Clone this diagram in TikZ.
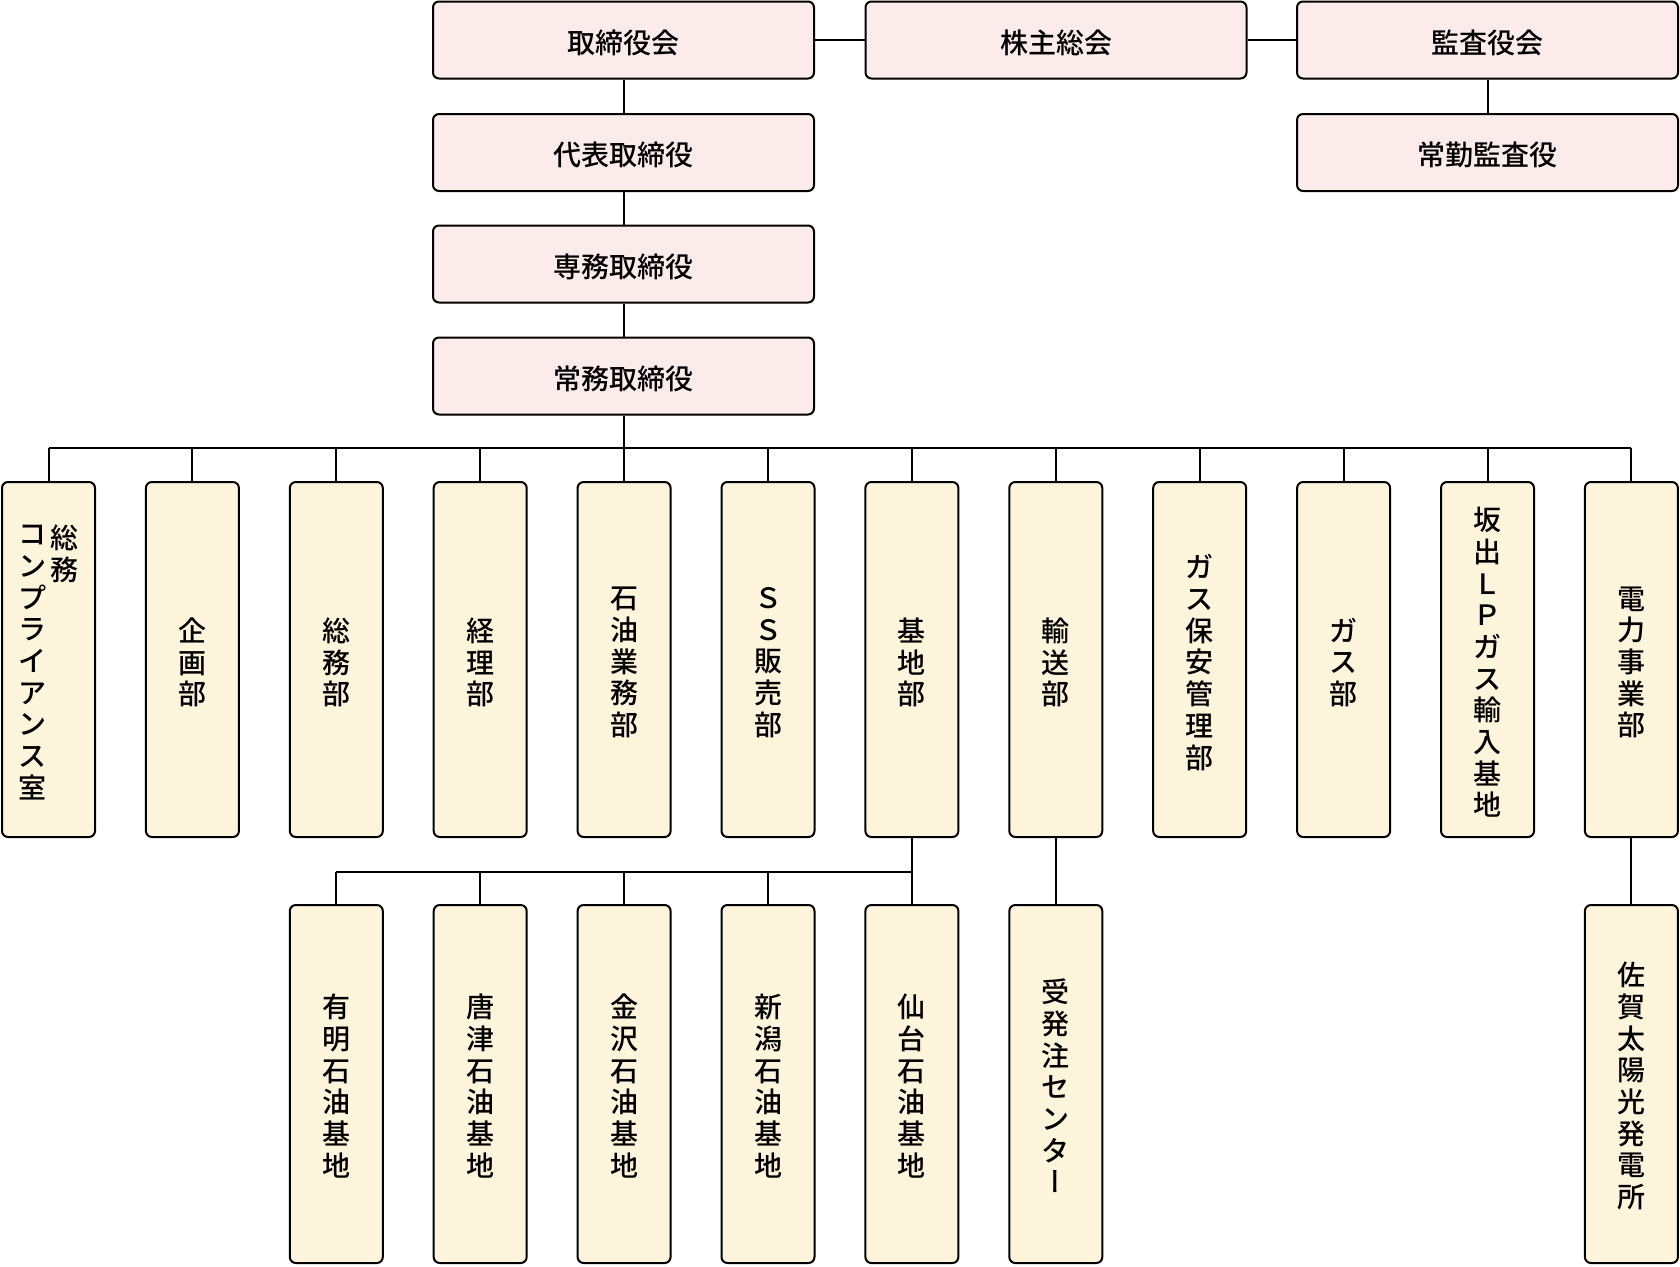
\documentclass[tikz,border=0pt]{standalone}
\usepackage{fontspec}
\setmainfont{Noto Sans CJK JP}[UprightFont=* Medium]
\newfontfamily\vertfont{Noto Sans CJK JP}[UprightFont=* Medium, RawFeature=+vert]
\definecolor{pinkfill}{HTML}{FCEBEB}
\definecolor{creamfill}{HTML}{FCF4DB}
\newcommand{\vbar}{{\vertfont ー}}
\begin{document}
\begin{tikzpicture}[x=1pt,y=-1pt,
  every node/.style={font=\fontsize{28}{31.7}\selectfont, text=black},
  topbox/.style={draw=black, line width=2pt, rounded corners=6pt, fill=pinkfill,
    minimum width=381pt, minimum height=77pt, inner sep=0pt},
  deptbox/.style={draw=black, line width=2pt, rounded corners=6pt, fill=creamfill,
    minimum width=93pt, minimum height=355pt, inner sep=0pt},
  lowbox/.style={deptbox, minimum height=358pt},
  txt/.style={inner sep=0pt, align=center},
  colnode/.style={inner sep=0pt, align=center, anchor=north},
  conn/.style={line width=2pt, draw=black}]
\useasboundingbox (0,0) rectangle (1680,1266);
\fill[white] (0,0) rectangle (1680,1266);

% top management
\node[topbox] (t1) at (623.5,40) {};
\node[topbox] (t2) at (1056,40) {};
\node[topbox] (t3) at (1487.5,40) {};
\node[topbox] (r1) at (623.5,152.5) {};
\node[topbox] (r2) at (623.5,264) {};
\node[topbox] (r3) at (623.5,376) {};
\node[topbox] (a1) at (1487.5,152.5) {};
\node[txt] (t1t) at ([yshift=-2.5pt]t1.center) {取締役会};
\node[txt] (t2t) at ([yshift=-2.5pt]t2.center) {株主総会};
\node[txt] (t3t) at ([yshift=-2.5pt]t3.center) {監査役会};
\node[txt] (r1t) at ([yshift=-2.5pt]r1.center) {代表取締役};
\node[txt] (r2t) at ([yshift=-2.5pt]r2.center) {専務取締役};
\node[txt] (r3t) at ([yshift=-2.5pt]r3.center) {常務取締役};
\node[txt] (a1t) at ([yshift=-2.5pt]a1.center) {常勤監査役};

% departments
\node[deptbox] (d0) at (48.5,659.5) {};
\node[colnode] (d0a) at (32.5,525) {コ\\ン\\プ\\ラ\\イ\\ア\\ン\\ス\\室};
\node[colnode] (d0b) at (64.5,525) {総\\務};
\node[deptbox] (d1) at (192.4,659.5) {};
\node[deptbox] (d2) at (336.3,659.5) {};
\node[deptbox] (d3) at (480.2,659.5) {};
\node[deptbox] (d4) at (624.1,659.5) {};
\node[deptbox] (d5) at (768.0,659.5) {};
\node[deptbox] (d6) at (911.9,659.5) {};
\node[deptbox] (d7) at (1055.8,659.5) {};
\node[deptbox] (d8) at (1199.7,659.5) {};
\node[deptbox] (d9) at (1343.6,659.5) {};
\node[deptbox] (d10) at (1487.5,659.5) {};
\node[deptbox] (d11) at (1631.4,659.5) {};
\node[txt] (d1t) at ([yshift=-3pt]d1.center) {企\\画\\部};
\node[txt] (d2t) at ([yshift=-3pt]d2.center) {総\\務\\部};
\node[txt] (d3t) at ([yshift=-3pt]d3.center) {経\\理\\部};
\node[txt] (d4t) at ([yshift=-3pt]d4.center) {石\\油\\業\\務\\部};
\node[txt] (d5t) at ([yshift=-3pt]d5.center) {Ｓ\\Ｓ\\販\\売\\部};
\node[txt] (d6t) at ([yshift=-3pt]d6.center) {基\\地\\部};
\node[txt] (d7t) at ([yshift=-3pt]d7.center) {輸\\送\\部};
\node[txt] (d8t) at ([yshift=-3pt]d8.center) {ガ\\ス\\保\\安\\管\\理\\部};
\node[txt] (d9t) at ([yshift=-3pt]d9.center) {ガ\\ス\\部};
\node[txt] (d10t) at ([yshift=-3pt]d10.center) {坂\\出\\Ｌ\\Ｐ\\ガ\\ス\\輸\\入\\基\\地};
\node[txt] (d11t) at ([yshift=-3pt]d11.center) {電\\力\\事\\業\\部};

% lower level
\node[lowbox] (b2) at (336.3,1084) {};
\node[lowbox] (b3) at (480.2,1084) {};
\node[lowbox] (b4) at (624.1,1084) {};
\node[lowbox] (b5) at (768.0,1084) {};
\node[lowbox] (b6) at (911.9,1084) {};
\node[lowbox] (b7) at (1055.8,1084) {};
\node[lowbox] (b11) at (1631.4,1084) {};
\node[txt] (b2t) at ([yshift=-2pt]b2.center) {有\\明\\石\\油\\基\\地};
\node[txt] (b3t) at ([yshift=-2pt]b3.center) {唐\\津\\石\\油\\基\\地};
\node[txt] (b4t) at ([yshift=-2pt]b4.center) {金\\沢\\石\\油\\基\\地};
\node[txt] (b5t) at ([yshift=-2pt]b5.center) {新\\潟\\石\\油\\基\\地};
\node[txt] (b6t) at ([yshift=-2pt]b6.center) {仙\\台\\石\\油\\基\\地};
\node[txt] (b7t) at ([yshift=-2pt]b7.center) {受\\発\\注\\セ\\ン\\タ\\\vbar};
\node[txt] (b11t) at ([yshift=-2pt]b11.center) {佐\\賀\\太\\陽\\光\\発\\電\\所};

% bus coordinates
\coordinate (bus) at (0,448);
\coordinate (bus2) at (0,872);

% connectors
\draw[conn] (t1.east) -- (t2.west);
\draw[conn] (t2.east) -- (t3.west);
\draw[conn] (t1.south) -- (r1.north);
\draw[conn] (r1.south) -- (r2.north);
\draw[conn] (r2.south) -- (r3.north);
\draw[conn] (t3.south) -- (a1.north);
\draw[conn] (r3.south) -- (r3.south |- bus);
\draw[conn] (d0.north |- bus) -- (d11.north |- bus);
\foreach \d in {d0,d1,d2,d3,d4,d5,d6,d7,d8,d9,d10,d11}
  \draw[conn] (\d.north) -- (\d.north |- bus);
\draw[conn] (d6.south) -- (d6.south |- bus2);
\draw[conn] (b2.north |- bus2) -- (b6.north |- bus2);
\foreach \b in {b2,b3,b4,b5,b6}
  \draw[conn] (\b.north) -- (\b.north |- bus2);
\draw[conn] (d7.south) -- (b7.north);
\draw[conn] (d11.south) -- (b11.north);
\end{tikzpicture}
\end{document}
